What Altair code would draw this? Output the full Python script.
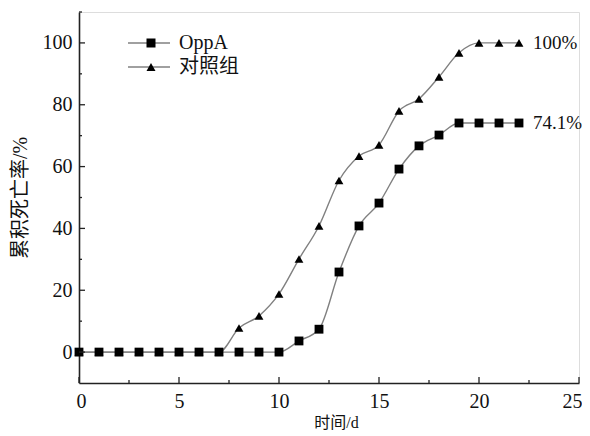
import altair as alt
import pandas as pd

days = list(range(23))
groups = ["OppA", "对照组"]
oppa = [0, 0, 0, 0, 0, 0, 0, 0, 0, 0, 0, 3.6, 7.4, 25.9, 40.8, 48.2, 59.2, 66.7, 70.2, 74.1, 74.1, 74.1, 74.1]
control = [0, 0, 0, 0, 0, 0, 0, 0, 7.8, 11.7, 18.8, 30.1, 40.8, 55.5, 63.4, 67.0, 78.0, 81.9, 89.0, 96.8, 100, 100, 100]
end_labels = ["74.1%", "100%"]
x_major = [0, 5, 10, 15, 20, 25]
x_minor = [2.5, 7.5, 12.5, 17.5, 22.5]
y_major = [0, 20, 40, 60, 80, 100]
y_minor = [10, 30, 50, 70, 90, 110]

FONT = "Liberation Serif, Times New Roman, Noto Sans CJK SC"
GRAY = "#808080"
INK = "#111111"

rows = []
for d, v in zip(days, oppa):
    rows.append({"day": d, "rate": v, "group": groups[0]})
for d, v in zip(days, control):
    rows.append({"day": d, "rate": v, "group": groups[1]})
df = pd.DataFrame(rows)
# separate keys so that the marker legend and the line legend are not merged
marker_keys = [g + " " for g in groups]
df["标记"] = df["group"] + " "
df["图例"] = df["group"]

ends = pd.DataFrame({
    "day": [days[-1], days[-1]],
    "rate": [oppa[-1], control[-1]],
    "label": end_labels,
})

xs = alt.Scale(domain=[0, 25], nice=False, zero=False)
ys = alt.Scale(domain=[-10, 110], nice=False, zero=False)

xenc = alt.X("day:Q", scale=xs, axis=alt.Axis(
    title="时间/d", values=x_major, ticks=False, grid=False, domainColor="#222",
    domainWidth=1.6, labelPadding=8, titlePadding=3, labelFontSize=20,
    labelFlush=True, labelFlushOffset=3,
    titleFontSize=16, labelFont=FONT, titleFont=FONT, titleFontWeight="normal",
    titleX=257, labelColor=INK, titleColor=INK))
yenc = alt.Y("rate:Q", scale=ys, axis=alt.Axis(
    title="累积死亡率/%", values=y_major, ticks=False, grid=False, domainColor="#222",
    domainWidth=1.6, labelPadding=7, titlePadding=12, labelFontSize=20,
    titleFontSize=20, labelFont=FONT, titleFont=FONT, titleFontWeight="normal",
    labelColor=INK, titleColor=INK))

lines = alt.Chart(df).mark_line(color=GRAY, strokeWidth=1.4, interpolate="monotone").encode(
    x=xenc, y=yenc, detail="group:N")

# legend with the black markers (no labels, drawn over the line legend)
marker_legend = alt.Legend(title=None, orient="none", legendX=62, legendY=21,
                           symbolSize=81, symbolOpacity=1, labelExpr="''", labelOffset=20,
                           labelFont=FONT, labelFontSize=20, rowPadding=4, padding=0, zindex=2)
points = alt.Chart(df).mark_point(filled=True, color="black", opacity=1, size=78).encode(
    x="day:Q", y="rate:Q",
    shape=alt.Shape("标记:N", scale=alt.Scale(domain=marker_keys, range=["square", "triangle-up"]),
                    legend=marker_legend))

# legend with the gray line segments and the labels
line_path = "M-3,0H3"
line_legend = alt.Legend(title=None, orient="none", legendX=60, legendY=21,
                         symbolType=line_path, symbolSize=196, symbolOpacity=1,
                         symbolStrokeWidth=1.4,
                         labelOffset=20, labelFont=FONT, labelFontSize=20,
                         labelColor=INK, rowPadding=4, padding=0, zindex=1)
legend_layer = alt.Chart(df).mark_point(opacity=0, filled=False, strokeWidth=1.4).encode(
    x="day:Q", y="rate:Q",
    stroke=alt.Stroke("图例:N", scale=alt.Scale(domain=groups, range=[GRAY, GRAY]),
                      legend=line_legend))

texts = alt.Chart(ends).mark_text(align="left", baseline="middle", dx=14, font=FONT,
                                  fontSize=19, color=INK).encode(
    x="day:Q", y="rate:Q", text="label:N")

xmaj = pd.DataFrame({"t": x_major})
xmin = pd.DataFrame({"t": x_minor})
ymaj = pd.DataFrame({"t": y_major})
ymin = pd.DataFrame({"t": y_minor})

xt1 = alt.Chart(xmaj).mark_rule(color="#222", strokeWidth=1.3).encode(
    x="t:Q", y=alt.value(371), y2=alt.value(365))
xt2 = alt.Chart(xmin).mark_rule(color="#222", strokeWidth=1.3).encode(
    x="t:Q", y=alt.value(371), y2=alt.value(368))
yt1 = alt.Chart(ymaj).mark_rule(color="#222", strokeWidth=1.3).encode(
    y="t:Q", x=alt.value(0), x2=alt.value(6))
yt2 = alt.Chart(ymin).mark_rule(color="#222", strokeWidth=1.3).encode(
    y="t:Q", x=alt.value(0), x2=alt.value(3))

chart = alt.layer(lines, legend_layer, points, texts, xt1, xt2, yt1, yt2).properties(
    width=500, height=371,
    autosize=alt.AutoSizeParams(type="none"),
    padding={"left": 71, "top": 4, "right": 3, "bottom": 50},
).configure_view(stroke=None).configure(background="white")

chart.save("out.html", embed_options={"renderer": "svg", "actions": False})
